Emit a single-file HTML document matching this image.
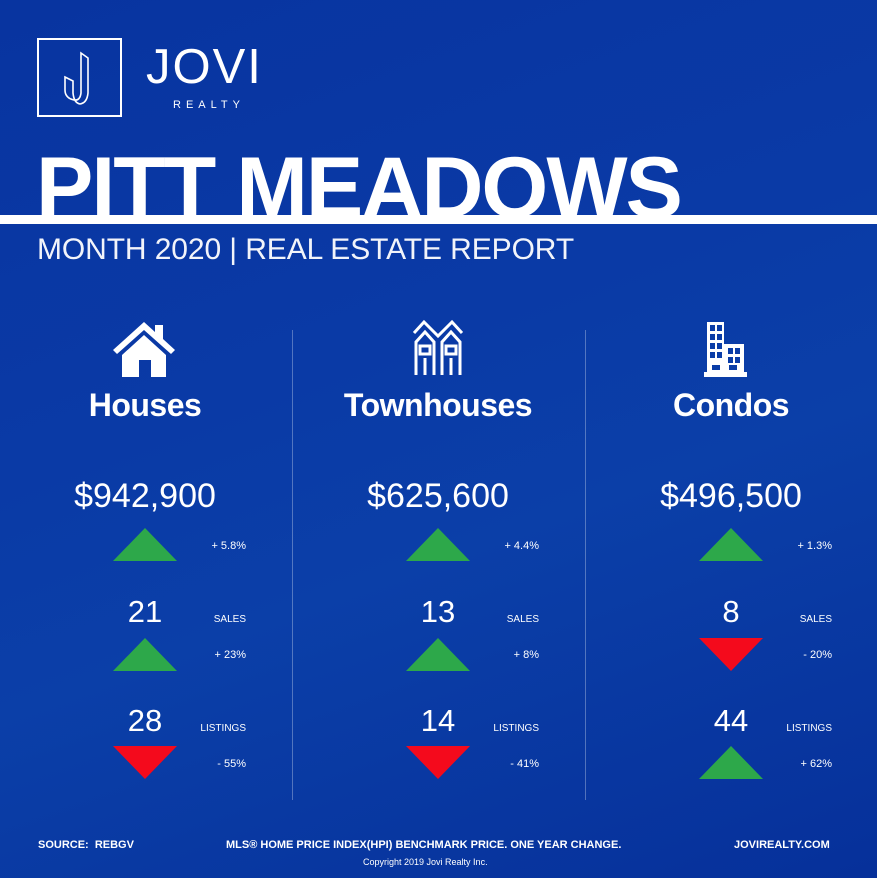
<!DOCTYPE html>
<html><head><meta charset="utf-8"><style>
*{margin:0;padding:0;box-sizing:border-box}
body{width:877px;height:878px;overflow:hidden;font-family:"Liberation Sans",sans-serif;color:#fff}
#bg{position:absolute;left:0;top:0;width:877px;height:878px;background:linear-gradient(160deg,#0834a0 0%,#0a3aa6 40%,#0b3fa8 60%,#06309a 100%)}
.abs{position:absolute;white-space:nowrap}
.tri{position:absolute;width:0;height:0;border-left:32px solid transparent;border-right:32px solid transparent}
.up{border-bottom:33px solid #2da84a}
.dn{border-top:33px solid #f40a1c}
.div{position:absolute;width:1px;background:rgba(255,255,255,0.3);top:330px;height:470px}
</style></head><body>
<div id="bg"></div>
<div class="abs" style="left:37px;top:38px;width:85px;height:79px;border:2px solid #fff"></div>
<svg class="abs" style="left:60px;top:48px" width="40" height="60" viewBox="0 0 40 60"><path d="M5 29 L13 33 L13 45 Q14 55 20 56 Q27 55 28 45 L28 10 L21 5 L21 45 Q20 53 14 52 Q5 50 5 42 Z" fill="none" stroke="#fff" stroke-width="1.6"/></svg>
<div class="abs" style="left:146px;top:42px;font-size:49px;font-weight:300;letter-spacing:2px;line-height:50px">JOVI</div>
<div class="abs" style="left:173px;top:99px;font-size:11px;letter-spacing:5px">REALTY</div>
<div class="abs" style="left:36px;top:138px;font-size:86px;font-weight:bold;line-height:100px;letter-spacing:-2px">PITT MEADOWS</div>
<div class="abs" style="left:0;top:215px;width:877px;height:9px;background:#fff"></div>
<div class="abs" style="left:37px;top:231px;font-size:30px;font-weight:300;line-height:38px;letter-spacing:-0.1px;opacity:.95">MONTH 2020 | REAL ESTATE REPORT</div>
<div class="div" style="left:292px"></div>
<div class="div" style="left:585px"></div>
<svg class="abs" style="left:110px;top:320px" width="70" height="58" viewBox="0 0 70 58"><path d="M3 30 L34 2 L45 12 L45 5 L53 5 L53 19 L65 30 L61 34 L34 10 L7 34 Z" fill="#fff"/><path d="M12 35 L34 15 L56 35 L56 57 L41 57 L41 40 L29 40 L29 57 L12 57 Z" fill="#fff"/></svg>
<svg class="abs" style="left:412px;top:318px" width="52" height="60" viewBox="0 0 52 60"><g fill="none" stroke="#fff" stroke-width="3"><path d="M2 15 L12 4 L26 18 L40 4 L50 15"/><path d="M4 57 L4 24 L13 14 L22 24 L22 57 M13 57 L13 40"/><path d="M30 57 L30 24 L39 14 L48 24 L48 57 M39 57 L39 40"/><rect x="8" y="28" width="10" height="8"/><rect x="34" y="28" width="10" height="8"/></g></svg>
<svg class="abs" style="left:704px;top:320px" width="56" height="58" viewBox="0 0 56 58"><path fill="#fff" fill-rule="evenodd" d="M3 2 H20 V24 H40 V52 H43 V57 H0 V52 H3 Z M6 5 h5 v6 h-5z M13 5 h5 v6 h-5z M6 14 h5 v6 h-5z M13 14 h5 v6 h-5z M6 23 h5 v6 h-5z M13 23 h5 v6 h-5z M24 28 h5 v6 h-5z M31 28 h5 v6 h-5z M6 32 h5 v6 h-5z M13 32 h5 v6 h-5z M24 37 h5 v6 h-5z M31 37 h5 v6 h-5z M8 45 h8 v5 h-8z M25 45 h8 v5 h-8z"/></svg>
<div id="cols"></div>
<div class="abs" style="left:38px;top:839px;font-size:11px;font-weight:bold">SOURCE:&nbsp; REBGV</div>
<div class="abs" style="left:226px;top:839px;font-size:11px;font-weight:bold">MLS® HOME PRICE INDEX(HPI) BENCHMARK PRICE. ONE YEAR CHANGE.</div>
<div class="abs" style="left:734px;top:839px;font-size:11px;font-weight:bold">JOVIREALTY.COM</div>
<div class="abs" style="left:363px;top:857px;font-size:9px">Copyright 2019 Jovi Realty Inc.</div>
<script>
const categories=["Houses","Townhouses","Condos"];
const prices=["$942,900","$625,600","$496,500"];
const priceChange=[5.8,4.4,1.3];
const sales=[21,13,8];
const salesChange=[23,8,-20];
const listings=[28,14,44];
const listingsChange=[-55,-41,62];
const centers=[145,438,731];
const root=document.getElementById('cols');
function add(html){const d=document.createElement('div');d.innerHTML=html;const e=d.firstChild;root.appendChild(e);return e;}
function fmt(v){return (v<0?'- ':'+ ')+Math.abs(v)+'%';}
function tri(cx,top,v,name){const e=add('<div class="tri '+(v>=0?'up':'dn')+'"></div>');e.style.left=(cx-32)+'px';e.style.top=top+'px';

}
function txt(s,css,name){const e=add('<div class="abs"></div>');e.textContent=s;e.style.cssText+=css;

return e;}
categories.forEach((c,i)=>{const cx=centers[i];
txt(c,'left:'+(cx-150)+'px;width:300px;text-align:center;top:387px;font-size:32px;font-weight:bold;letter-spacing:-0.5px','category-heading');
txt(prices[i],'left:'+(cx-150)+'px;width:300px;text-align:center;top:477px;font-size:34px','price');
tri(cx,528,priceChange[i],'price-change-arrow');
txt(fmt(priceChange[i]),'left:'+(cx+41)+'px;width:60px;text-align:right;top:540px;font-size:11px','price-change');
txt(String(sales[i]),'left:'+(cx-50)+'px;width:100px;text-align:center;top:594px;font-size:31px','sales-count');
txt('SALES','left:'+(cx+40)+'px;width:61px;text-align:right;top:614px;font-size:10px','sales-label');
tri(cx,638,salesChange[i],'sales-change-arrow');
txt(fmt(salesChange[i]),'left:'+(cx+41)+'px;width:60px;text-align:right;top:649px;font-size:11px','sales-change');
txt(String(listings[i]),'left:'+(cx-50)+'px;width:100px;text-align:center;top:703px;font-size:31px','listings-count');
txt('LISTINGS','left:'+(cx+36)+'px;width:65px;text-align:right;top:723px;font-size:10px','listings-label');
tri(cx,746,listingsChange[i],'listings-change-arrow');
txt(fmt(listingsChange[i]),'left:'+(cx+41)+'px;width:60px;text-align:right;top:758px;font-size:11px','listings-change');
});
</script>
</body></html>
